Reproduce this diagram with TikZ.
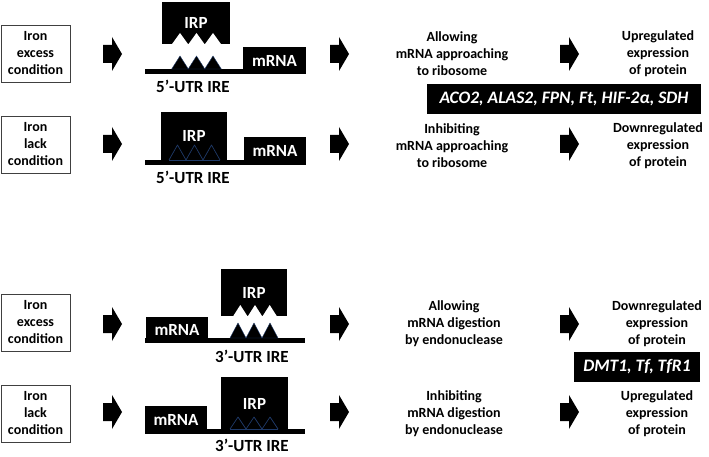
\documentclass[tikz,border=0pt]{standalone}
\usepackage{fontspec}
\setmainfont{Carlito}
\definecolor{navy}{HTML}{1F3A68}
\begin{document}
\begin{tikzpicture}[x=1pt,y=-1pt,
  cond/.style={draw=black!75, line width=0.8pt, minimum width=69pt, minimum height=57pt, inner sep=0pt, align=center, font=\fontsize{14}{17}\selectfont\bfseries},
  txt/.style={align=center, inner sep=0pt, font=\fontsize{14}{17}\selectfont\bfseries},
  blk/.style={fill=black, text=white, inner sep=0pt, font=\fontsize{17}{17}\selectfont\bfseries},
  lab/.style={font=\fontsize{17}{17}\selectfont\bfseries, inner sep=0pt},
  genes/.style={fill=black, text=white, font=\fontsize{17.5}{18}\selectfont\bfseries\itshape, inner sep=0pt, minimum height=30pt},
  barr/.style={fill=black},
  ]
\useasboundingbox (0,0) rectangle (709,457);
\fill[white] (0,0) rectangle (709,457);

% block arrows
\newcommand{\blockarrow}[2]{%
  \fill[black] (#1,#2-9) -- (#1+9,#2-9) -- (#1+9,#2-17) -- (#1+19,#2) -- (#1+9,#2+17) -- (#1+9,#2+9) -- (#1,#2+9) -- cycle;}
\foreach \yy in {54,144,324,412}{
  \blockarrow{103}{\yy}
  \blockarrow{330}{\yy}
  \blockarrow{560}{\yy}
}

% condition boxes
\node[cond] (c1) at (35.5,53.5) {Iron\\excess\\condition};
\node[cond] (c2) at (35.5,144.5) {Iron\\lack\\condition};
\node[cond] (c3) at (35.5,322.5) {Iron\\excess\\condition};
\node[cond] (c4) at (35.5,413.5) {Iron\\lack\\condition};

% ---------- Row 1 ----------
\fill[black] (145,69) rectangle (306,74);
\node[blk, minimum width=68pt, minimum height=42pt] (irp1) at (196,23) {IRP};
\node[blk, minimum width=63pt, minimum height=27pt] (m1) at (274.5,60.5) {mRNA};
\foreach \p in {180,196.5,213}{
  \fill[white] (\p-8.3,44.5) -- (\p,33) -- (\p+8.3,44.5) -- cycle;
  \filldraw[fill=black, draw=navy, line width=0.4pt] (\p-8.3,69) -- (\p,56) -- (\p+8.3,69) -- cycle;
}
\node[lab] (u1) at (193,86) {5’-UTR IRE};

% ---------- Row 2 ----------
\fill[black] (145,160) rectangle (306,165);
\node[blk, minimum width=66pt, minimum height=48pt] (irp2) at (194,136) {IRP};
\node[blk, minimum width=62pt, minimum height=28pt] (m2) at (275,151) {mRNA};
\draw[navy, line width=0.7pt, line join=round] (169,160) -- (177.5,145) -- (186,160) -- (194.5,145) -- (203,160) -- (211.5,145) -- (220,160);
\draw[navy, line width=0.5pt] (169,160.3) -- (220,160.3);
\node[lab] (u2) at (193,177) {5’-UTR IRE};

% ---------- Row 3 ----------
\fill[black] (145,338) rectangle (305,343);
\node[blk, minimum width=66pt, minimum height=47pt] (irp3) at (254,292.5) {IRP};
\node[blk, minimum width=62pt, minimum height=26pt] (m3) at (177,330) {mRNA};
\foreach \p in {240.3,255,269.7}{
  \fill[white] (\p-7.35,316.5) -- (\p,305) -- (\p+7.35,316.5) -- cycle;
}
\foreach \p in {238,254,270}{
  \filldraw[fill=black, draw=navy, line width=0.4pt] (\p-8,338) -- (\p,323) -- (\p+8,338) -- cycle;
}
\node[lab] (u3) at (252,356) {3’-UTR IRE};

% ---------- Row 4 ----------
\fill[black] (145,429) rectangle (305,434);
\node[blk, minimum width=67pt, minimum height=53pt] (irp4) at (254.5,403.5) {IRP};
\node[blk, minimum width=62pt, minimum height=28pt] (m4) at (176,420) {mRNA};
\draw[navy, line width=0.7pt, line join=round] (230,429) -- (238,417) -- (246,429) -- (254,417) -- (262,429) -- (270,417) -- (278,429);
\draw[navy, line width=0.5pt] (230,429.3) -- (278,429.3);
\node[lab] (u4) at (252,445) {3’-UTR IRE};

% ---------- effect texts ----------
\node[txt] (e1) at (452,54) {Allowing\\mRNA approaching\\to ribosome};
\node[txt] (e2) at (452,146) {Inhibiting\\mRNA approaching\\to ribosome};
\node[txt] (e3) at (454,324) {Allowing\\mRNA digestion\\by endonuclease};
\node[txt] (e4) at (454,414) {Inhibiting\\mRNA digestion\\by endonuclease};

\node[txt] (r1) at (658,54) {Upregulated\\expression\\of protein};
\node[txt] (r2) at (658,146) {Downregulated\\expression\\of protein};
\node[txt] (r3) at (657,324) {Downregulated\\expression\\of protein};
\node[txt] (r4) at (657,414) {Upregulated\\expression\\of protein};

% gene boxes
\node[genes, minimum width=274pt] (g1) at (564,99) {ACO2, ALAS2, FPN, Ft, HIF-2α, SDH};
\node[genes, minimum width=126pt] (g2) at (637,367) {DMT1, Tf, TfR1};
\end{tikzpicture}
\end{document}
